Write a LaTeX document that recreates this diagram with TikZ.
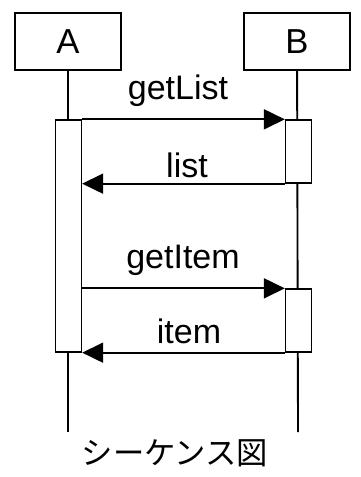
\documentclass[tikz,border=0pt]{standalone}
\usepackage{fontspec}
\setmainfont{Liberation Sans}
\newfontfamily\cjk{Noto Sans CJK JP}
\usetikzlibrary{arrows.meta}

\begin{document}
\begin{tikzpicture}[x=0.75pt,y=-0.75pt,line width=1.4pt,
  obj/.style={draw,minimum width=79.5pt,minimum height=42.75pt,inner sep=0pt,font=\fontsize{26}{26}\selectfont},
  act/.style={draw,fill=white,line width=1pt,minimum width=19.5pt,inner sep=0pt},
  msg/.style={-{Triangle[length=15.75pt,width=15pt]}},
  lbl/.style={anchor=base,inner sep=0pt,font=\fontsize{25.5}{25.5}\selectfont}]
\useasboundingbox (0,0) rectangle (360,477);
\node[obj] (A) at (68,41.5) {A};
\node[obj] (B) at (297,41.5) {B};
\coordinate (Aend) at (68,432);
\coordinate (Bend) at (298,432);
\draw (A) -- (Aend);
\draw (B) -- (Bend);
\node[act,minimum height=174pt] (actA) at (68.5,236) {};
\node[act,minimum height=47.25pt] (actB1) at (298.5,151.5) {};
\node[act,minimum height=47.25pt] (actB2) at (298.5,320.5) {};
\draw[msg] (actA.north east) -- (actB1.north west);
\draw[msg] (actB1.south west) -- (actA.east |- actB1.south);
\draw[msg] (actA.east |- actB2.north) -- (actB2.north west);
\draw[msg] (actB2.south west) -- (actA.south east);
\node[lbl] (getList) at (178,100) {getList};
\node[lbl] (list) at (187,177) {list};
\node[lbl] (getItem) at (183,268) {getItem};
\node[lbl] (item) at (189,343) {item};
\node[anchor=base,inner sep=0pt,font=\cjk\fontsize{23.5}{23.5}\selectfont] (title) at (175,464) {シーケンス図};
\end{tikzpicture}
\end{document}
